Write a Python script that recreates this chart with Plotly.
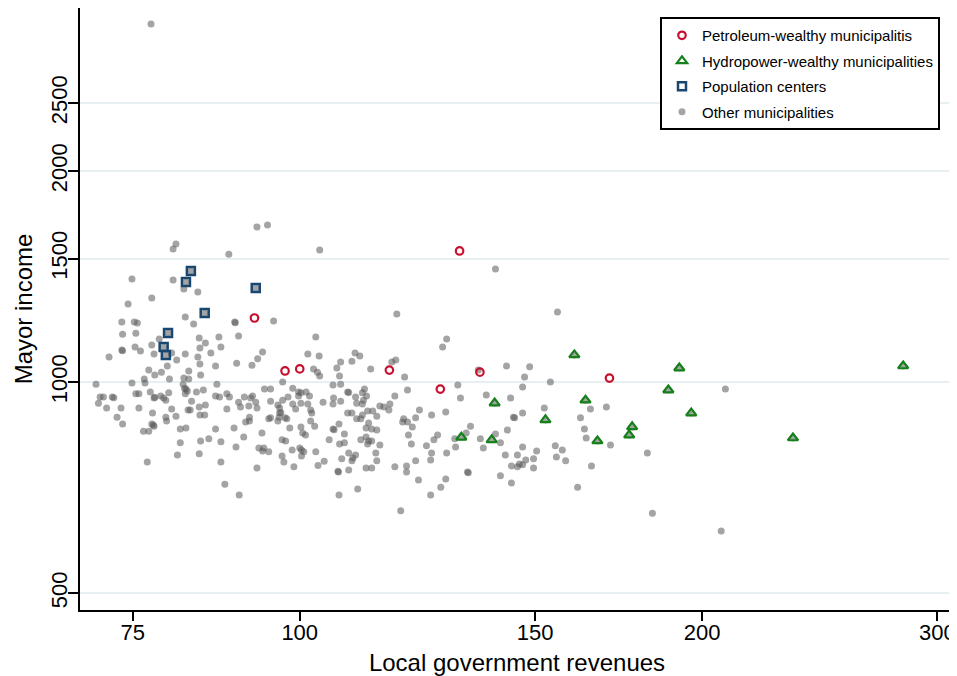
import plotly.graph_objects as go

# Petroleum-wealthy municipalities
petro_x = [92.5, 97.5, 100.0, 116.7, 127.4, 131.7, 136.4, 170.5]
petro_y = [1234, 1037, 1044, 1040, 977, 1538, 1033, 1013]

# Hydropower-wealthy municipalities
hydro_x = [132.1, 139.2, 139.9, 152.7, 160.5, 163.6, 167.0, 176.4, 177.3, 188.7, 192.3, 196.3, 233.9, 282.8]
hydro_y = [834, 827, 933, 883, 1093, 942, 824, 840, 863, 974, 1047, 903, 832, 1054]

# Population centers
pop_x = [82.9, 82.2, 92.7, 84.9, 79.7, 79.1, 79.4]
pop_y = [1440, 1389, 1362, 1254, 1175, 1122, 1093]

# Other municipalities
other_x = [
    77.4, 92.9, 94.6, 80.8, 80.4, 88.5, 103.5, 74.9, 80.4, 83.9, 81.9, 77.5, 74.4, 82.1, 83.3,
    89.4, 89.5, 95.6, 73.6, 75.2, 75.6, 73.7, 75.4, 78.5, 77.5, 75.3, 76.0, 73.6, 73.7, 77.8,
    80.2, 82.1, 84.1, 85.0, 84.2, 87.0, 87.3, 90.0, 85.8, 83.9, 72.0, 93.8, 93.0, 92.1, 89.7,
    86.5, 84.3, 82.6, 78.8, 79.6, 77.1, 102.8, 101.4, 103.4, 102.4, 103.1, 103.5, 97.1, 70.4, 74.9,
    76.5, 76.6, 79.9, 81.8, 82.6, 86.7, 80.9, 84.2, 77.9, 81.9, 94.1, 95.1, 98.8, 99.8, 101.1,
    82.2, 82.0, 82.4, 70.9, 71.3, 70.7, 72.4, 72.6, 71.7, 73.5, 73.0, 75.8, 75.4, 75.8, 77.3,
    77.8, 77.9, 79.1, 79.4, 78.7, 79.8, 82.1, 83.0, 83.7, 84.7, 80.2, 77.6, 79.4, 82.5, 82.8,
    84.1, 85.0, 80.8, 84.2, 84.9, 86.5, 87.1, 88.2, 88.6, 88.2, 90.0, 90.3, 90.9, 91.6, 92.2,
    92.7, 91.9, 92.9, 95.1, 96.3, 96.6, 97.1, 98.0, 99.8, 98.8, 99.3, 97.5, 96.5, 95.1, 91.7,
    73.7, 77.5, 77.7, 77.8, 76.4, 77.1, 79.5, 81.4, 82.2, 81.4, 81.0, 76.9, 84.1, 84.3, 85.5,
    86.5, 87.3, 87.3, 87.9, 90.1, 89.3, 89.6, 90.8, 91.1, 91.7, 93.7, 94.8, 96.3, 97.8, 96.6,
    96.8, 93.2, 93.8, 94.0, 94.8, 92.9, 97.0, 97.6, 98.3, 100.2, 100.5, 101.0, 97.0, 97.3, 98.7,
    99.0, 100.0, 100.3, 100.7, 100.3,
    140.1, 118.2, 127.9, 128.8, 110.0, 110.9, 109.4, 107.3, 106.6, 107.1, 113.0, 117.2, 118.0, 119.8, 142.8,
    147.3, 105.9, 107.3, 101.7, 104.1, 106.0, 105.9, 107.3, 108.6, 108.8, 110.1, 110.3, 111.4, 111.8, 112.2,
    111.6, 111.4, 112.4, 113.4, 114.8, 115.6, 116.8, 116.6, 117.8, 120.4, 122.9, 125.5, 128.6, 131.3, 131.9,
    137.9, 143.8, 146.8, 144.5, 101.4, 101.9, 102.1, 100.2, 100.2, 108.6, 109.4, 111.4, 114.2, 119.6, 122.1,
    136.0,
    101.9, 102.6, 102.8, 103.2, 104.3, 105.2, 105.9, 106.1, 107.0, 108.0, 107.1, 108.0, 108.8, 110.1, 109.6,
    109.4, 107.5, 106.8, 106.9, 108.8, 107.0, 110.5, 110.3, 111.1, 112.6, 112.1, 113.2, 114.2, 111.1, 112.1,
    112.6, 113.2, 112.4, 114.8, 114.0, 114.2, 112.1, 113.2, 117.8, 120.2, 120.2, 119.4, 120.4, 121.4, 120.6,
    121.2, 122.1, 122.7, 119.0, 124.4, 125.3, 125.5, 126.0, 126.8, 128.6, 127.5, 125.3, 128.8, 130.8, 130.6,
    133.2, 134.2, 133.5, 133.7, 136.5, 137.2, 140.1, 141.3, 143.0, 144.8, 142.5, 141.3, 144.0, 144.0, 145.5,
    146.0, 145.5, 146.8, 147.6,
    155.9, 148.6, 154.0, 152.4, 146.8, 162.2, 165.0, 169.6, 208.2, 163.3, 163.8, 170.8, 182.0, 155.3, 157.2,
    155.6, 158.1, 150.4, 149.6, 146.8, 149.6, 165.3, 161.4, 183.6, 206.7,
]
other_y = [
    3241, 1664, 1675, 1574, 1548, 1522, 1543, 1403, 1398, 1344, 1357, 1318, 1292, 1238, 1210,
    1218, 1215, 1222, 1218, 1218, 1214, 1170, 1174, 1152, 1129, 1122, 1107, 1111, 1108, 1096,
    1100, 1096, 1156, 1137, 1118, 1159, 1122, 1163, 1100, 1086, 1086, 1104, 1079, 1057, 1064,
    1054, 1023, 1037, 1033, 1054, 1040, 1159, 1096, 1089, 1044, 1033, 1020, 1000, 993, 997,
    1010, 997, 1010, 993, 1010, 993, 1075, 1061, 1023, 1013, 977, 977, 980, 968, 968,
    977, 979, 971, 952, 952, 933, 952, 950, 918, 918, 891, 962, 962, 918, 968,
    949, 951, 949, 942, 955, 965, 962, 939, 968, 974, 915, 903, 891, 912, 912,
    921, 927, 894, 897, 897, 955, 952, 962, 952, 915, 936, 921, 952, 924, 955,
    936, 949, 918, 939, 927, 918, 942, 952, 955, 930, 915, 889, 891, 889, 891,
    871, 871, 868, 865, 851, 851, 880, 857, 860, 819, 787, 769, 790, 824, 830,
    857, 822, 769, 715, 690, 860, 808, 835, 877, 880, 846, 886, 880, 886, 903,
    905, 805, 797, 805, 795, 754, 827, 824, 860, 863, 846, 840, 784, 769, 800,
    757, 805, 800, 795, 784,
    1449, 1250, 1122, 1152, 1100, 1089, 1071, 1068, 1047, 1020, 1044, 1068, 1075, 1017, 1054,
    1017, 990, 993, 955, 936, 949, 930, 939, 968, 966, 952, 933, 965, 977, 955,
    942, 930, 909, 909, 924, 921, 930, 912, 955, 974, 912, 897, 906, 990, 949,
    958, 949, 984, 891, 930, 912, 903, 965, 933, 903, 903, 897, 894, 886, 889,
    1040,
    880, 865, 795, 760, 771, 827, 857, 855, 871, 843, 816, 819, 792, 787, 779,
    772, 777, 746, 744, 749, 690, 704, 886, 886, 874, 860, 857, 854, 827, 835,
    824, 824, 816, 813, 792, 772, 754, 754, 757, 759, 744, 877, 877, 863, 840,
    816, 772, 725, 655, 811, 774, 792, 827, 840, 727, 708, 690, 792, 808, 830,
    846, 865, 744, 742, 830, 805, 843, 819, 854, 889, 787, 735, 718, 759, 757,
    764, 787, 808, 774,
    1259, 1051, 1000, 918, 903, 889, 915, 921, 977, 857, 832, 813, 792, 811, 800,
    782, 772, 797, 777, 762, 754, 759, 708, 650, 613,
]

x_ticks = [75, 100, 150, 200, 300]
y_ticks = [500, 1000, 1500, 2000, 2500]

FONT = "Arial, Liberation Sans, sans-serif"

fig = go.Figure()

# gray dots (the hydropower and population municipalities are also drawn as dots beneath their symbols)
fig.add_trace(go.Scatter(
    x=other_x + hydro_x + pop_x, y=other_y + hydro_y + pop_y,
    mode="markers", name="Other municipalities", legendrank=4, legendgroup="other",
    marker=dict(symbol="circle", size=7, color="rgba(90,90,90,0.55)", line=dict(width=0)),
))
fig.add_trace(go.Scatter(
    x=petro_x, y=petro_y, mode="markers", name="Petroleum-wealthy municipalitis",
    legendrank=1, legendgroup="petro",
    marker=dict(symbol="circle-open", size=7.5, color="#c8102e", line=dict(width=2.2, color="#c8102e")),
))
fig.add_trace(go.Scatter(
    x=hydro_x, y=hydro_y, mode="markers", name="Hydropower-wealthy municipalities",
    legendrank=2, legendgroup="hydro",
    marker=dict(symbol="triangle-up-open", size=9, color="#16801a", line=dict(width=2.2, color="#16801a")),
))
fig.add_trace(go.Scatter(
    x=pop_x, y=pop_y, mode="markers", name="Population centers",
    legendrank=3, legendgroup="pop",
    marker=dict(symbol="square-open", size=8, color="#1a476f", line=dict(width=2.5, color="#1a476f")),
))

# the page body adds an 8px offset, so the figure is sized to fit the 957x676 window
fig.update_layout(
    width=949, height=668,
    margin=dict(l=72, r=3, t=0, b=66),
    paper_bgcolor="white", plot_bgcolor="white",
    font=dict(family=FONT, color="black"),
    showlegend=True,
    legend=dict(
        x=0.6636, y=0.985, xanchor="left", yanchor="top",
        bgcolor="white", bordercolor="black", borderwidth=2,
        font=dict(size=15, family=FONT, color="black"),
        traceorder="grouped", tracegroupgap=3,
    ),
    xaxis=dict(
        type="log", range=[1.8356, 2.4895],
        tickvals=x_ticks, ticktext=[str(v) for v in x_ticks],
        showgrid=False, zeroline=False,
        showline=True, linecolor="black", linewidth=2,
        ticks="outside", ticklen=9, tickwidth=2, tickcolor="black",
        ticklabelstandoff=-7,
        tickfont=dict(size=22, family=FONT, color="black"),
        title=dict(text="Local government revenues", font=dict(size=24, family=FONT, color="black"), standoff=10),
        automargin=False,
    ),
    yaxis=dict(
        type="log", range=[2.6748, 3.5335],
        tickvals=y_ticks, ticktext=[str(v) for v in y_ticks],
        tickangle=-90,
        showgrid=True, gridcolor="#e6eff1", gridwidth=2, zeroline=False,
        showline=True, linecolor="black", linewidth=2,
        ticks="outside", ticklen=10, tickwidth=2, tickcolor="black",
        ticklabelstandoff=-8,
        tickfont=dict(size=22, family=FONT, color="black"),
        title=dict(text="Mayor income", font=dict(size=24, family=FONT, color="black"), standoff=8),
        automargin=False,
    ),
)

fig.write_html("out.html")
